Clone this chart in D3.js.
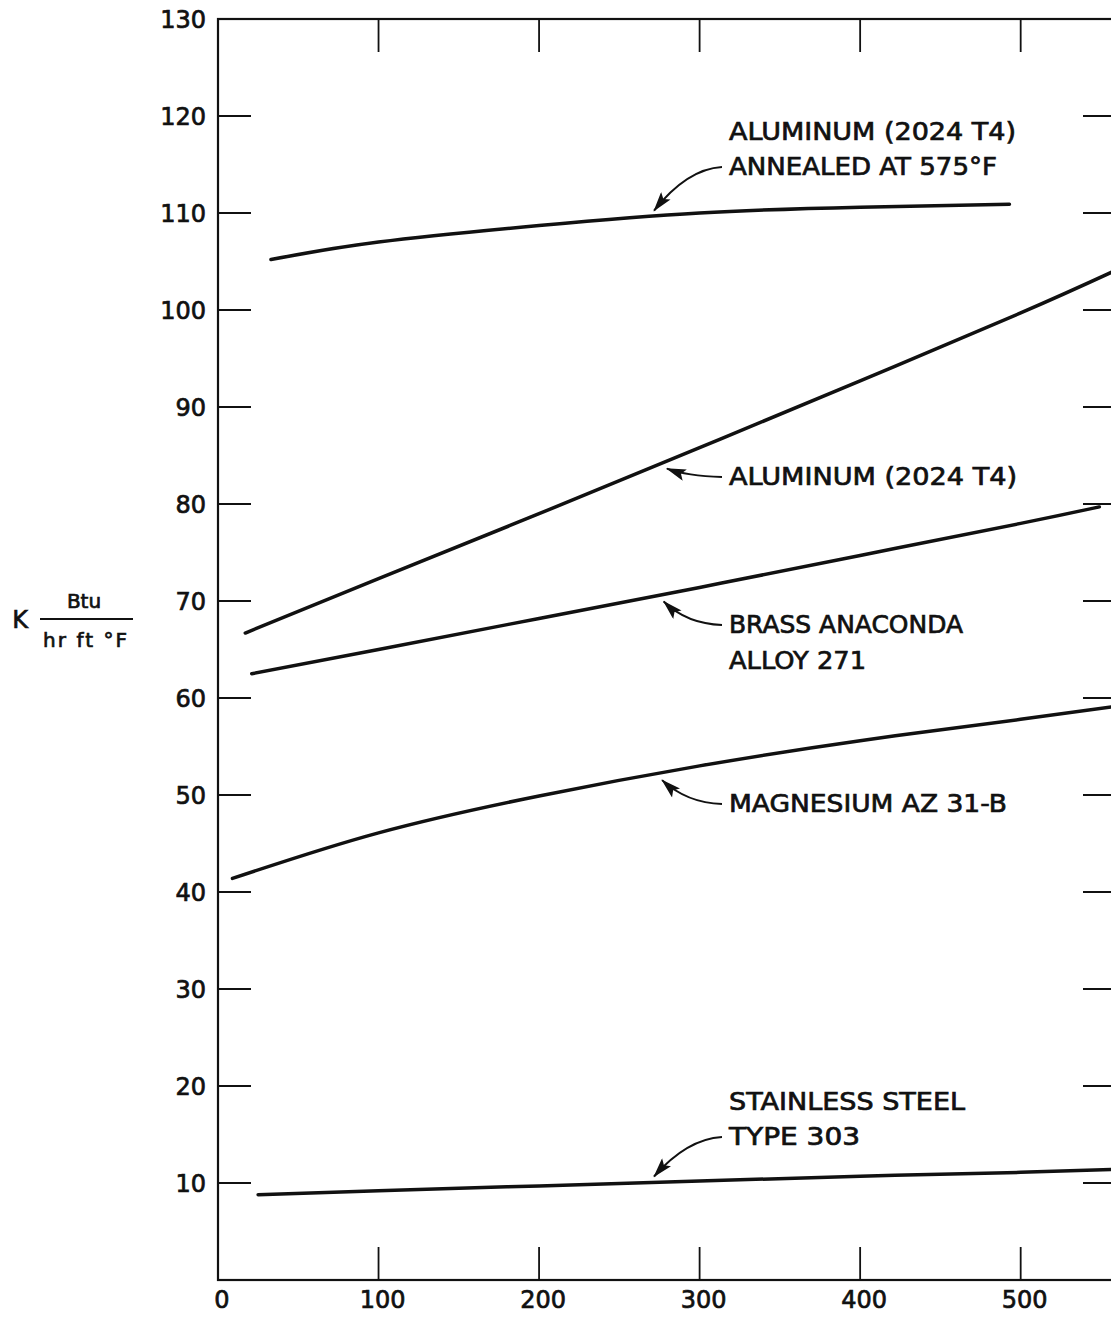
<!DOCTYPE html>
<html>
<head>
<meta charset="utf-8">
<script src="https://cdn.jsdelivr.net/npm/d3@7"></script>
<style>
  html, body { margin: 0; padding: 0; background: #fff; }
  svg { display: block; }
  text { font-family: "DejaVu Sans", "Liberation Sans", sans-serif; fill: #111; stroke: #111; stroke-width: 0.7px; }
</style>
</head>
<body>
<svg id="chart" width="1111" height="1317"></svg>
<script>
// ---------- DATA ----------
const xTicks = [0, 100, 200, 300, 400, 500];
const yTicks = [10, 20, 30, 40, 50, 60, 70, 80, 90, 100, 110, 120, 130];

const tempAnnealed = [33, 100, 200, 300, 400, 493];
const kAnnealed    = [105.2, 107.0, 108.7, 110.0, 110.6, 110.9];

const tempAl = [17, 100, 200, 300, 400, 500, 558];
const kAl    = [66.7, 72.3, 79.0, 85.8, 92.7, 99.7, 104.0];

const tempBrass = [21, 100, 200, 300, 400, 500, 549];
const kBrass    = [62.5, 65.0, 68.2, 71.4, 74.7, 78.0, 79.7];

const tempMg = [9, 100, 200, 300, 400, 500, 558];
const kMg    = [41.4, 46.1, 49.9, 53.0, 55.6, 57.8, 59.1];

const tempSS = [25, 100, 200, 300, 400, 500, 558];
const kSS    = [8.8, 9.2, 9.7, 10.2, 10.7, 11.1, 11.4];

const labels = [
  { lines: ["ALUMINUM (2024 T4)", "ANNEALED AT 575°F"], widths: [287, 268], tempAt: 271, series: "annealed" },
  { lines: ["ALUMINUM (2024 T4)"], widths: [288], tempAt: 279, series: "al" },
  { lines: ["BRASS ANACONDA", "ALLOY 271"], widths: [234, 137], tempAt: 277, series: "brass" },
  { lines: ["MAGNESIUM AZ 31-B"], widths: [278], tempAt: 276, series: "mg" },
  { lines: ["STAINLESS STEEL", "TYPE 303"], widths: [236, 131], tempAt: 271, series: "ss" }
];

// ---------- SCALES ----------
const svg = d3.select("#chart");
const pL = 218, pR = 1117, pT = 19, pB = 1280;
const x = d3.scaleLinear().domain([0, 560]).range([pL, pR]);
const y = d3.scaleLinear().domain([0, 130]).range([pB, pT]);

svg.append("rect").attr("width", 1111).attr("height", 1317).attr("fill", "#fff");

// ---------- FRAME & TICKS ----------
const frame = svg.append("g").attr("stroke", "#111").attr("fill", "none");
frame.append("rect").attr("x", pL).attr("y", pT)
  .attr("width", pR - pL).attr("height", pB - pT).attr("stroke-width", 2.2);

const tickLen = 33;
const inner = xTicks.filter(d => d > 0);
frame.selectAll(".tt").data(inner).join("line").attr("class", "tt")
  .attr("x1", d => x(d)).attr("x2", d => x(d))
  .attr("y1", pT).attr("y2", pT + tickLen).attr("stroke-width", 1.8);
frame.selectAll(".bt").data(inner).join("line").attr("class", "bt")
  .attr("x1", d => x(d)).attr("x2", d => x(d))
  .attr("y1", pB).attr("y2", pB - tickLen).attr("stroke-width", 1.8);
const yInner = yTicks.filter(d => d < 130);
frame.selectAll(".lt").data(yInner).join("line").attr("class", "lt")
  .attr("x1", pL).attr("x2", pL + tickLen)
  .attr("y1", d => y(d)).attr("y2", d => y(d)).attr("stroke-width", 1.8);
frame.selectAll(".rt").data(yInner).join("line").attr("class", "rt")
  .attr("x1", pR).attr("x2", pR - tickLen - 1)
  .attr("y1", d => y(d)).attr("y2", d => y(d)).attr("stroke-width", 1.8);

// tick labels
svg.append("g").selectAll("text").data(yTicks).join("text")
  .attr("x", 206).attr("y", d => y(d)).attr("dy", "0.36em")
  .attr("text-anchor", "end").attr("font-size", 24)
  .text(d => d);
svg.append("g").selectAll("text").data(xTicks).join("text")
  .attr("x", d => x(d) + 4).attr("y", 1308)
  .attr("text-anchor", "middle").attr("font-size", 24)
  .text(d => d);

// y axis title
const yt = svg.append("g");
yt.append("text").attr("x", 20).attr("y", 628).attr("text-anchor", "middle").attr("font-size", 24).text("K");
yt.append("text").attr("x", 84).attr("y", 608).attr("text-anchor", "middle").attr("font-size", 20).text("Btu");
yt.append("line").attr("x1", 40).attr("x2", 133).attr("y1", 619).attr("y2", 619)
  .attr("stroke", "#111").attr("stroke-width", 2);
yt.append("text").attr("x", 85).attr("y", 647).attr("text-anchor", "middle").attr("font-size", 20)
  .attr("textLength", 84).attr("lengthAdjust", "spacing").text("hr ft °F");

// ---------- CURVES ----------
const series = {
  annealed: d3.zip(tempAnnealed, kAnnealed),
  al: d3.zip(tempAl, kAl),
  brass: d3.zip(tempBrass, kBrass),
  mg: d3.zip(tempMg, kMg),
  ss: d3.zip(tempSS, kSS)
};
const line = d3.line().x(d => x(d[0])).y(d => y(d[1])).curve(d3.curveNatural);
svg.append("clipPath").attr("id", "plot")
  .append("rect").attr("x", pL).attr("y", pT).attr("width", pR - pL).attr("height", pB - pT);
svg.append("g").attr("clip-path", "url(#plot)")
  .selectAll("path").data(Object.values(series)).join("path")
  .attr("d", line).attr("fill", "none").attr("stroke", "#111")
  .attr("stroke-width", 3.5).attr("stroke-linecap", "round");

// ---------- ANNOTATIONS ----------
const defs = svg.append("defs");
defs.append("marker").attr("id", "ah").attr("viewBox", "0 0 20 12")
  .attr("refX", 19).attr("refY", 6).attr("markerWidth", 21).attr("markerHeight", 12)
  .attr("markerUnits", "userSpaceOnUse").attr("orient", "auto")
  .append("path").attr("d", "M0,0 L20,6 L0,12 L4,6 Z").attr("fill", "#111");

const textX = 729;
function kAt(name, t) {
  const s = series[name];
  for (let i = 0; i < s.length - 1; i++) {
    if (t >= s[i][0] && t <= s[i + 1][0]) {
      const f = (t - s[i][0]) / (s[i + 1][0] - s[i][0]);
      return s[i][1] + f * (s[i + 1][1] - s[i][1]);
    }
  }
  return s[s.length - 1][1];
}
const layout = [
  { base: 140, gap: 35, leaderLine: 1, above: true },
  { base: 485, gap: 35, leaderLine: 0, above: false },
  { base: 633, gap: 36, leaderLine: 0, above: false },
  { base: 812, gap: 35, leaderLine: 0, above: false },
  { base: 1110, gap: 35, leaderLine: 1, above: true }
];
const ann = svg.append("g");
labels.forEach((lab, i) => {
  const L = layout[i];
  lab.lines.forEach((ln, j) => {
    ann.append("text").attr("x", textX).attr("y", L.base + j * L.gap)
      .attr("font-size", 24).attr("textLength", lab.widths[j]).attr("lengthAdjust", "spacingAndGlyphs")
      .text(ln);
  });
  const sy = L.base + L.leaderLine * L.gap - 8;
  const sx = 722;
  const tx = x(lab.tempAt) + 1;
  const ty = y(kAt(lab.series, lab.tempAt)) + (L.above ? -6 : 7);
  const cx = sx - 35, cy = L.above ? sy + 2 : sy - 1;
  ann.append("path")
    .attr("d", `M${sx},${sy} Q${cx},${cy} ${tx},${ty}`)
    .attr("fill", "none").attr("stroke", "#111").attr("stroke-width", 2)
    .attr("marker-end", "url(#ah)");
});
</script>
</body>
</html>
